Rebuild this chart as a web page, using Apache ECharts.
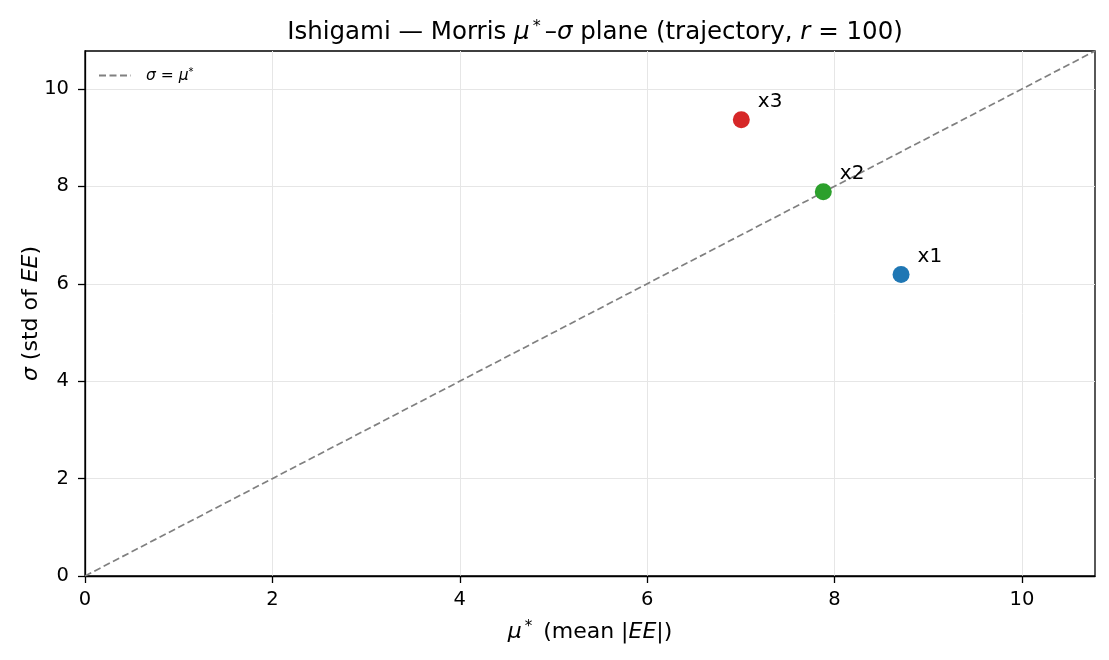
<!DOCTYPE html>
<html>
<head>
<meta charset="utf-8">
<script src="https://cdn.jsdelivr.net/npm/echarts@6/dist/echarts.min.js"></script>
<style>
html, body { margin: 0; padding: 0; background: #fff; }
#chart { width: 1109px; height: 660px; }
</style>
</head>
<body>
<div id="chart"></div>
<script>
var names = ['x1', 'x2', 'x3'];
var muStar = [8.71, 7.88, 7.005];
var sigma = [6.19, 7.89, 9.37];
var colors = ['#1f77b4', '#2ca02c', '#d62728'];
var axisMax = 10.78;
var ticks = [0, 2, 4, 6, 8, 10];

var font = 'DejaVu Sans';
var chart = echarts.init(document.getElementById('chart'));

var points = [];
for (var i = 0; i < names.length; i++) {
    points.push({
        value: [muStar[i], sigma[i]],
        name: names[i],
        itemStyle: { color: colors[i], opacity: 1 }
    });
}

function axisCommon(margin) {
    return {
        type: 'value',
        min: 0,
        max: axisMax,
        interval: 2,
        nameMoveOverlap: false,
        axisLine: { show: true, onZero: false, lineStyle: { color: '#000', width: 1.3 } },
        axisTick: { show: true, length: 7, customValues: ticks, lineStyle: { color: '#000', width: 1.3 } },
        axisLabel: { fontSize: 19.5, color: '#000', margin: margin, customValues: ticks },
        splitLine: { show: true, lineStyle: { color: '#e6e6e6', width: 1 } }
    };
}

var xAx = axisCommon(14);
xAx.name = '{i|μ}{s|*}{n| (mean |}{i|EE}{n||)}';
xAx.nameLocation = 'middle';
xAx.nameGap = 44;
xAx.nameTextStyle = {
    rich: {
        n: { fontFamily: font, fontSize: 22, color: '#000' },
        i: { fontFamily: font, fontSize: 22, fontStyle: 'italic', color: '#000' },
        s: { fontFamily: font, fontSize: 15, color: '#000', verticalAlign: 'top', padding: [0, 4, 10, 3] }
    }
};

var yAx = axisCommon(16);
yAx.name = '{i|σ}{n| (std of }{i|EE}{n|)}';
yAx.nameLocation = 'middle';
yAx.nameGap = 43;
yAx.nameRotate = 90;
yAx.nameTextStyle = {
    rich: {
        n: { fontFamily: font, fontSize: 22, color: '#000' },
        i: { fontFamily: font, fontSize: 22, fontStyle: 'italic', color: '#000' }
    }
};

var option = {
    animation: false,
    backgroundColor: '#fff',
    textStyle: { fontFamily: font },
    title: {
        text: '{n|Ishigami — Morris }{i|μ}{s|*}{n|–}{i|σ}{n| plane (trajectory, }{i|r}{n| = 100)}',
        left: 590,
        textAlign: 'center',
        top: 14,
        textStyle: {
            fontWeight: 'normal',
            rich: {
                n: { fontFamily: font, fontSize: 24.5, fontWeight: 'normal', color: '#000' },
                i: { fontFamily: font, fontSize: 24.5, fontWeight: 'normal', fontStyle: 'italic', color: '#000' },
                s: { fontFamily: font, fontSize: 16, fontWeight: 'normal', color: '#000', verticalAlign: 'top', padding: [0, 4, 12, 3] }
            }
        }
    },
    legend: {
        left: 93,
        top: 62,
        itemWidth: 32,
        itemHeight: 10,
        itemGap: 8,
        data: ['sigma'],
        itemStyle: { opacity: 0 },
        formatter: function () { return '{i|σ} = {i|μ}{s|*}'; },
        textStyle: {
            padding: [0, 0, 0, 10],
            rich: {
                i: { fontFamily: font, fontSize: 15.5, fontStyle: 'italic', color: '#000' },
                s: { fontFamily: font, fontSize: 10, color: '#000', verticalAlign: 'top', padding: [0, 0, 7, 0] }
            },
            fontSize: 15.5,
            color: '#000'
        }
    },
    grid: {
        left: 85,
        right: 14,
        top: 51,
        bottom: 84,
        show: true,
        borderColor: '#000',
        borderWidth: 1.3
    },
    xAxis: xAx,
    yAxis: yAx,
    series: [
        {
            name: 'sigma',
            type: 'line',
            data: [[0, 0], [axisMax, axisMax]],
            showSymbol: false,
            symbol: 'none',
            itemStyle: { color: '#808080' },
            lineStyle: { color: '#808080', width: 1.7, type: [7, 3.5] },
            z: 2
        },
        {
            name: 'points',
            type: 'scatter',
            data: points,
            symbolSize: 17,
            z: 3,
            itemStyle: { opacity: 1 },
            label: {
                show: true,
                formatter: function (p) { return p.name; },
                position: 'right',
                offset: [3, -18],
                fontSize: 20,
                color: '#000'
            }
        }
    ]
};

chart.setOption(option);
</script>
</body>
</html>
